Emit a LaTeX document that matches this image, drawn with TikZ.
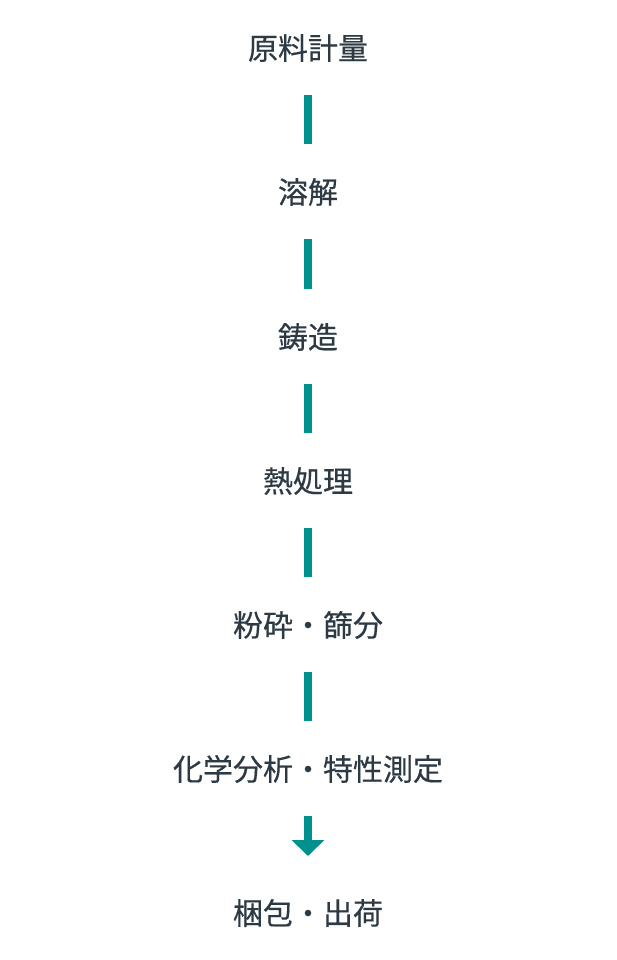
\documentclass[tikz,border=0pt]{standalone}
\usepackage{fontspec}
\newfontfamily\cjk[FakeBold=0.4]{Noto Sans CJK JP}
\usetikzlibrary{positioning, arrows.meta}
\definecolor{tinta}{HTML}{2D3A44}
\definecolor{verdeazul}{HTML}{00908E}

\begin{document}
\begin{tikzpicture}[
    x=1pt, y=-1pt,
    % Estilos para los nodos
    proceso/.style={font=\cjk\fontsize{30}{34}\selectfont, text=tinta, inner sep=0pt},
    conector/.style={line width=8pt, draw=verdeazul, shorten <=47pt, shorten >=48pt},
    flecha/.style={line width=8pt, draw=verdeazul, shorten <=47pt, shorten >=57pt,
        -{Triangle[width=32pt, length=16pt, fill=verdeazul]}}
    ]
    \useasboundingbox (0,0) rectangle (616,960);

    % Pasos del proceso
    \node[proceso] (medida) at (308,48) {原料計量};
    \node[proceso] (fusion) at (308,192) {溶解};
    \node[proceso] (colada) at (308,337) {鋳造};
    \node[proceso] (termico) at (308,481) {熱処理};
    \node[proceso] (molienda) at (308,625) {粉砕・篩分};
    \node[proceso] (analisis) at (308,769) {化学分析・特性測定};
    \node[proceso] (envio) at (308,913) {梱包・出荷};

    % Conectores
    \draw[conector] (medida.center) -- (fusion.center);
    \draw[conector] (fusion.center) -- (colada.center);
    \draw[conector] (colada.center) -- (termico.center);
    \draw[conector] (termico.center) -- (molienda.center);
    \draw[conector] (molienda.center) -- (analisis.center);
    \draw[flecha] (analisis.center) -- (envio.center);

\end{tikzpicture}
\end{document}
